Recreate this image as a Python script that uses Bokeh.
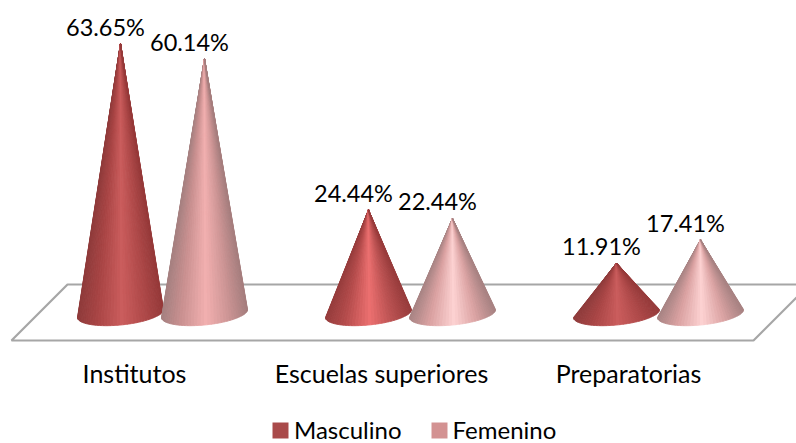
import math
from bokeh.embed import file_html
from bokeh.resources import INLINE
from bokeh.plotting import figure
from bokeh.models import ColumnDataSource, Legend, LegendItem, FixedTicker, Range1d
from bokeh.core.properties import value

categories = ["Institutos", "Escuelas superiores", "Preparatorias"]
category_ticks = [0.0, 0.996, 1.992]
masculino = [63.65, 24.44, 11.91]
femenino = [60.14, 22.44, 17.41]
series_names = ["Masculino", "Femenino"]

PXY = 4.24      # pixels per percent
PXX = 248.0     # pixels per category
BASE_PY = 313.0
W, H = 796, 443
X0 = 134.0
FONT = "Lato"

p = figure(width=W, height=H, output_backend="svg", toolbar_location=None,
           x_range=Range1d(-X0 / PXX, (W - X0) / PXX),
           y_range=Range1d(-(H - BASE_PY) / PXY, BASE_PY / PXY),
           min_border_left=0, min_border_right=0, min_border_top=0, min_border_bottom=0,
           frame_width=W, frame_height=H,
           outline_line_color=None, background_fill_color=None, border_fill_color=None)
p.grid.visible = False
p.yaxis.visible = False
ax = p.xaxis[0]
ax.ticker = FixedTicker(ticks=category_ticks)
ax.major_label_overrides = {t: c for t, c in zip(category_ticks, categories)}
ax.axis_line_color = None
ax.major_tick_line_color = None
ax.minor_tick_line_color = None
ax.major_label_text_font = FONT
ax.major_label_text_font_size = "25px"
ax.major_label_text_color = "#000000"
ax.major_label_standoff = -92


def X(px):
    return (px - X0) / PXX


def Y(py):
    return (BASE_PY - py) / PXY


# floor
p.patch([X(11), X(67), X(809), X(753)], [Y(340), Y(284), Y(284), Y(340)],
        fill_color=None, line_color="#A6A6A6", line_width=2.2)


def hexrgb(h):
    return tuple(int(h[i:i + 2], 16) for i in (1, 3, 5))


def ramp(stops, u):
    for (u0, c0), (u1, c1) in zip(stops, stops[1:]):
        if u <= u1:
            t = (u - u0) / (u1 - u0)
            a, b = hexrgb(c0), hexrgb(c1)
            return "#%02x%02x%02x" % tuple(round(a[i] + (b[i] - a[i]) * t) for i in range(3))
    return stops[-1][1]


def cone_strips(cx_off_px, vals, palettes):
    xs, ys, cols = [], [], []
    A, B, TILT = 43.0, 11.5, 4.0
    N = 40
    for g, v in enumerate(vals):
        stops = palettes[g]
        cx = X0 + g * PXX + cx_off_px
        apex_x, apex_y = g + cx_off_px / PXX, v
        for k in range(N):
            t0 = math.pi * (1 - k / N)
            t1 = math.pi * (1 - (k + 1) / N)
            pts = []
            for j in range(5):
                t = t0 + (t1 - t0) * j / 4
                px = cx + A * math.cos(t)
                py = BASE_PY + B * math.sin(t) - TILT * math.cos(t)
                pts.append((X(px), Y(py)))
            um = math.cos((t0 + t1) / 2)
            xs.append([apex_x] + [q[0] for q in pts])
            ys.append([apex_y] + [q[1] for q in pts])
            cols.append(ramp(stops, um))
    return xs, ys, cols


red_low = [(-1, "#8f3b3b"), (-0.55, "#a84545"), (0.05, "#cb5d5d"), (0.55, "#b04a4a"), (1, "#963a3a")]
red_high = [(-1, "#963c3c"), (-0.55, "#b54c4c"), (0.05, "#ec7070"), (0.55, "#bb5252"), (1, "#983c3c")]
pink_low = [(-1, "#a58080"), (-0.55, "#c99090"), (0.05, "#f2b0b0"), (0.55, "#cf9696"), (1, "#a67e7e")]
pink_high = [(-1, "#a88484"), (-0.55, "#d9a0a0"), (0.05, "#fdd2d2"), (0.55, "#dca4a4"), (1, "#a88282")]

for off, vals, pal in [(-14.0, masculino, [red_low, red_high, red_low]),
                       (70.0, femenino, [pink_low, pink_high, pink_high])]:
    xs, ys, cols = cone_strips(off, vals, pal)
    p.patches("xs", "ys", source=ColumnDataSource(dict(xs=xs, ys=ys, c=cols)),
              fill_color="c", line_color="c", line_width=1.0)

# data labels
for off, vals in [(-14.0, masculino), (70.0, femenino)]:
    lx = [i + off / PXX for i in range(len(vals))]
    p.text(lx, vals, text=[f"{v:.2f}%" for v in vals], x_offset=-15, y_offset=-17,
           text_align="center", text_baseline="middle", text_color="#000000",
           text_font=value(FONT), text_font_size="23.5px")

# legend
nan = float("nan")
r1 = p.quad(left=[nan], right=[nan], top=[nan], bottom=[nan], fill_color="#A94A4A", line_color=None)
r2 = p.quad(left=[nan], right=[nan], top=[nan], bottom=[nan], fill_color="#D39292", line_color=None)
legend = Legend(items=[LegendItem(label=series_names[0], renderers=[r1]),
                       LegendItem(label=series_names[1], renderers=[r2])],
                orientation="horizontal", location=(270, -1),
                background_fill_color=None, border_line_color=None,
                glyph_width=20, glyph_height=20, label_text_font=FONT, label_text_font_size="24px",
                label_text_color="#000000", spacing=27, padding=0, margin=0,
                label_standoff=4)
p.add_layout(legend, "center")

open("out.html", "w").write(file_html(p, INLINE))
